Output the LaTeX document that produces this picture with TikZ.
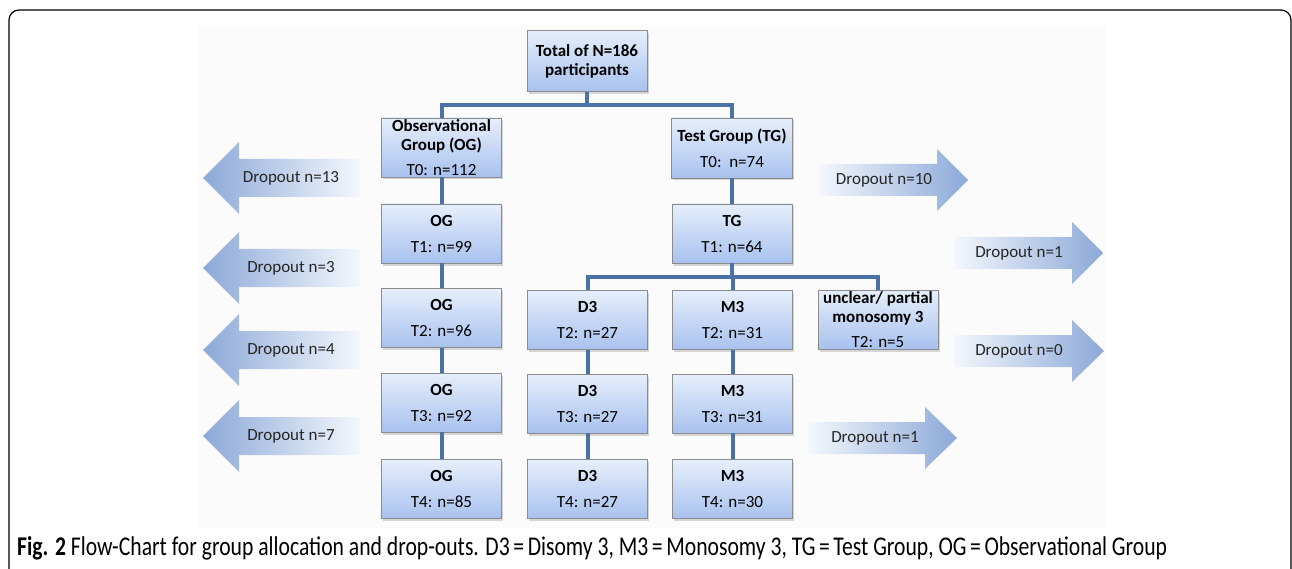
\documentclass[tikz,border=0pt]{standalone}
\usepackage{fontspec}
\setmainfont{Carlito}
\usetikzlibrary{shadows,calc}
\definecolor{boxtop}{HTML}{E6EEFB}
\definecolor{boxbot}{HTML}{A8C2EE}
\definecolor{boxline}{HTML}{8C8C8C}
\definecolor{conncol}{HTML}{4A72A6}
\definecolor{arrcol}{HTML}{8CA9D8}
\definecolor{arrlight}{HTML}{F4F7FC}
\begin{document}
\begin{tikzpicture}[x=1pt,y=-1pt,
  box/.style={draw=boxline, line width=0.8pt, top color=boxtop, bottom color=boxbot,
    minimum width=120pt, minimum height=59pt, inner sep=0pt, align=center,
    font=\fontsize{17}{19}\selectfont,
    drop shadow={shadow xshift=1.5pt, shadow yshift=-2.5pt, opacity=0.3}},
  conn/.style={draw=conncol, line width=4pt},
  droptext/.style={font=\fontsize{17}{19}\selectfont, text=black!85, inner sep=0pt}
]
\useasboundingbox (0,0) rectangle (1292,569);
\clip (0,0) rectangle (1292,569);
\fill[white] (0,0) rectangle (1292,569);
% outer frame
\draw[line width=1.2pt, rounded corners=10pt] (9,10) rectangle (1291,640);
% faint background
\fill[black!1.5] (197,25) rectangle (1105,528);

% left dropout arrows
\foreach \yc/\lab/\nm in {178/13/dl0, 268/3/dl1, 350/4/dl2, 436/7/dl3}{
  \shade[left color=arrcol, right color=arrlight]
    (203,\yc) -- (239,\yc-36) -- (239,\yc-19) -- (360,\yc-19) -- (360,\yc+19)
    -- (239,\yc+19) -- (239,\yc+36) -- cycle;
  \node[droptext] (\nm) at (291,\yc) {Dropout n=\lab};
}
% right dropout arrows
\foreach \xl/\xh/\xt/\yc/\lab/\tx/\nm in {819/937/968/180/10/884/dr0, 954/1072/1103/253/1/1019/dr1, 954/1072/1104/351/0/1019/dr2, 808/925/957/438/1/875/dr3}{
  \shade[left color=arrlight, right color=arrcol]
    (\xl,\yc-16) -- (\xh,\yc-16) -- (\xh,\yc-31) -- (\xt,\yc) -- (\xh,\yc+31)
    -- (\xh,\yc+16) -- (\xl,\yc+16) -- cycle;
  \node[droptext] (\nm) at (\tx,\yc) {Dropout n=\lab};
}

\coordinate (bus1) at (587,105);
\coordinate (bus2) at (732,277);

\node[box, minimum height=61pt] (total) at (587,61) {\bfseries Total of N=186\\\bfseries participants};
\node[box] (og0) at (441.5,147.5) {\bfseries Observational\\\bfseries Group (OG)\\[6pt]T0: n=112};
\node[box, minimum width=121pt, minimum height=60pt] (tg0) at (732,148) {\bfseries Test Group (TG)\\[7pt]T0:\ \ n=74};
\node[box] (og1) at (441.5,233.5) {\bfseries OG\\[7pt]T1: n=99};
\node[box] (og2) at (441.5,318) {\bfseries OG\\[7pt]T2: n=96};
\node[box] (og3) at (441.5,402.5) {\bfseries OG\\[7pt]T3: n=92};
\node[box] (og4) at (441.5,489) {\bfseries OG\\[7pt]T4: n=85};
\node[box] (tg1) at (732,233.5) {\bfseries TG\\[7pt]T1: n=64};
\node[box] (d32) at (587.5,320) {\bfseries D3\\[7pt]T2: n=27};
\node[box] (d33) at (587.5,403.5) {\bfseries D3\\[7pt]T3: n=27};
\node[box] (d34) at (587.5,489) {\bfseries D3\\[7pt]T4: n=27};
\node[box] (m32) at (732.5,320) {\bfseries M3\\[7pt]T2: n=31};
\node[box] (m33) at (732.5,403.5) {\bfseries M3\\[7pt]T3: n=31};
\node[box] (m34) at (732.5,489) {\bfseries M3\\[7pt]T4: n=30};
\node[box] (unc) at (878,319.5) {\bfseries unclear/ partial\\\bfseries monosomy 3\\[6pt]T2: n=5};

\draw[conn] (total.south) -- (bus1);
\draw[conn] (bus1) -| (og0.north);
\draw[conn] (bus1) -| (tg0.north);
\draw[conn] (og0.south) -- (og1.north);
\draw[conn] (og1.south) -- (og2.north);
\draw[conn] (og2.south) -- (og3.north);
\draw[conn] (og3.south) -- (og4.north);
\draw[conn] (tg0.south) -- (tg1.north);
\draw[conn] (tg1.south) -- (bus2);
\draw[conn] (bus2) -| (d32.north);
\draw[conn] (bus2) -| (m32.north);
\draw[conn] (bus2) -| (unc.north);
\draw[conn] (d32.south) -- (d33.north);
\draw[conn] (d33.south) -- (d34.north);
\draw[conn] (m32.south) -- (m33.north);
\draw[conn] (m33.south) -- (m34.north);

% caption
\node[anchor=base west, inner sep=0pt] (cap) at (17,555)
  {\resizebox{1150pt}{!}{\scalebox{0.8}[1]{\fontsize{18}{20}\selectfont\textbf{Fig. 2} Flow-Chart for group allocation and drop-outs. D3\,=\,Disomy 3, M3\,=\,Monosomy 3, TG\,=\,Test Group, OG\,=\,Observational Group}}};
\end{tikzpicture}
\end{document}
